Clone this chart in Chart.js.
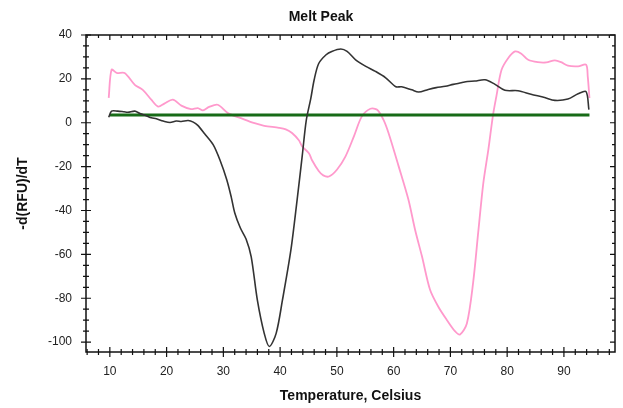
<!DOCTYPE html>
<html>
<head>
<meta charset="utf-8">
<script src="https://cdn.jsdelivr.net/npm/chart.js@4.4.1/dist/chart.umd.min.js"></script>
<style>
  html, body { margin: 0; padding: 0; background: #fff; }
  #wrap { width: 623px; height: 408px; }
</style>
</head>
<body>
<div id="wrap"><canvas id="myChart" width="623" height="408"></canvas></div>
<script>
// melt peak curves, temperature (C) vs -d(RFU)/dT
var blackTemp = [9.8, 10.3, 11.4, 12.5, 13.2, 14.4, 15.3, 16.5, 17.3, 18.2, 19.4, 20.6, 21.7, 22.6, 23.8, 24.7, 25.5, 26.7, 28.2, 29.4,
  30.6, 31.4, 32.0, 33.0, 34.0, 34.9, 36.0, 37.2, 38.1, 39.3, 40.4, 41.9, 43.0, 43.9, 44.6, 45.4, 46.0, 46.8, 48.1, 49.1,
  50.7, 51.8, 53.3, 55.1, 56.8, 58.6, 60.4, 61.4, 63.2, 64.4, 66.1, 67.5, 69.1, 70.5, 71.9, 73.0, 74.3, 76.1, 77.8, 79.6,
  81.9, 84.2, 86.6, 88.4, 90.7, 92.5, 93.9, 94.4];
var blackVal = [2.5, 5.3, 5.3, 5.0, 4.8, 5.3, 4.2, 3.1, 2.3, 1.8, 0.8, 0.1, 0.8, 0.6, 1.0, 0.3, -1.2, -5, -10, -17,
  -26, -34, -41, -48, -53, -61, -81, -96, -102, -96, -81, -58, -35, -15, 1, 11, 19.6, 27, 31, 32.5,
  33.6, 32.5, 28.7, 25.7, 23.4, 20.5, 16.4, 16.4, 15, 14, 15.2, 16, 16.6, 17.5, 18.2, 18.8, 19.0, 19.6, 17.6, 14.8,
  14.6, 13.0, 11.5, 10.2, 10.8, 13.2, 14.2, 6.0];

var pinkTemp = [9.8, 10.3, 11.2, 12.6, 14.4, 15.8, 17.3, 18.5, 19.6, 21.1, 22.6, 24.3, 25.5, 26.4, 27.5, 29.0, 30.8, 33.1, 35.5, 37.2,
  39.8, 41.0, 42.1, 43.3, 43.9, 45.1, 45.6, 46.8, 47.6, 48.6, 50.0, 51.5, 53.0, 54.4, 55.9, 57.1, 58.2, 59.1, 60.9, 62.6,
  63.8, 65.0, 66.4, 67.9, 69.4, 70.8, 71.7, 72.9, 74.0, 74.9, 75.8, 76.7, 77.5, 78.1, 79.0, 80.2, 81.4, 82.5, 83.7, 85.4,
  86.9, 88.4, 89.5, 90.7, 92.5, 93.9, 94.2, 94.5];
var pinkVal = [11.3, 24.2, 22.7, 22.7, 17.3, 15, 10.5, 7.4, 8.7, 10.5, 7.8, 6.2, 6.7, 5.6, 7.2, 8.2, 4.4, 2.1, -0.2, -1.4,
  -2.3, -3, -4.7, -8, -10.8, -14, -17, -22, -24, -24.5, -21.4, -15.4, -6.2, 2.9, 6.4, 5.9, 1.4, -4.7, -20, -35,
  -49, -61, -76, -84, -90, -95, -96.5, -91.5, -73, -50, -27.5, -12, 3.4, 12, 24, 29.5, 32.5, 31.5, 28.7, 27.6,
  27.5, 28.4, 27.6, 26, 25.7, 26.5, 21, 11.3];

// threshold line
var baseTemp = [10, 94.5];
var baseVal = [3.5, 3.5];

var xTicks = [10, 20, 30, 40, 50, 60, 70, 80, 90];
var yTicks = [-100, -80, -60, -40, -20, 0, 20, 40];

var fontFamily = "'Liberation Sans', Arial, sans-serif";

function points(xs, ys){
  return xs.map(function(x, i){ return {x: x, y: ys[i]}; });
}

// frame plus tick marks on all four sides (crossing on left/bottom, inward on top/right)
var frameTicks = {
  id: 'frameTicks',
  afterDraw: function(chart){
    var ctx = chart.ctx;
    var a = chart.chartArea;
    var xs = chart.scales.x, ys = chart.scales.y;
    ctx.save();
    ctx.strokeStyle = '#111';
    ctx.lineWidth = 1.5;
    ctx.strokeRect(a.left, a.top, a.right - a.left, a.bottom - a.top);
    ctx.lineWidth = 1.2;
    ctx.beginPath();
    var v, px, big;
    for (v = 6; v <= 98; v += 2) {
      px = xs.getPixelForValue(v);
      big = v % 10 === 0;
      ctx.moveTo(px, a.bottom - (big ? 5 : 3));
      ctx.lineTo(px, a.bottom + (big ? 5 : 3));
      ctx.moveTo(px, a.top);
      ctx.lineTo(px, a.top + (big ? 5 : 3));
    }
    for (v = -100; v <= 40; v += 5) {
      px = ys.getPixelForValue(v);
      big = v % 20 === 0;
      ctx.moveTo(a.left - (big ? 5 : 3), px);
      ctx.lineTo(a.left + (big ? 5 : 3), px);
      ctx.moveTo(a.right - (big ? 5 : 3), px);
      ctx.lineTo(a.right, px);
    }
    ctx.stroke();
    ctx.restore();
  }
};

var chart;

function initChart(){
  var ctx = document.getElementById('myChart').getContext('2d');
  chart = new Chart(ctx, {
    type: 'line',
    data: {
      datasets: [{
        label: 'Sample A',
        data: points(blackTemp, blackVal),
        borderColor: '#333333',
        borderWidth: 1.6,
        pointRadius: 0,
        tension: 0.3,
        fill: false
      }, {
        label: 'Threshold',
        data: points(baseTemp, baseVal),
        borderColor: '#176b17',
        borderWidth: 3,
        pointRadius: 0,
        fill: false
      }, {
        label: 'Sample B',
        data: points(pinkTemp, pinkVal),
        borderColor: '#ff99cc',
        borderWidth: 1.8,
        pointRadius: 0,
        tension: 0.3,
        fill: false
      }]
    },
    options: {
      responsive: false,
      animation: false,
      events: [],
      layout: { padding: { left: 27, right: 8, top: 0, bottom: 0 } },
      plugins: {
        legend: { display: false },
        tooltip: { enabled: false },
        title: {
          display: true,
          text: 'Melt Peak',
          color: '#111',
          font: { family: fontFamily, size: 14, weight: 'bold' },
          padding: { top: 9, bottom: 9.2 }
        }
      },
      scales: {
        x: {
          type: 'linear',
          min: 5.8,
          max: 99,
          grid: { display: false, drawTicks: false },
          border: { display: false },
          afterBuildTicks: function(s){ s.ticks = xTicks.map(function(v){ return {value: v}; }); },
          afterFit: function(s){ s.height = 56; },
          ticks: {
            color: '#222',
            padding: 12,
            maxRotation: 0,
            font: { family: fontFamily, size: 12 }
          },
          title: {
            display: true,
            text: 'Temperature, Celsius',
            color: '#111',
            font: { family: fontFamily, size: 14, weight: 'bold' },
            padding: { top: 0, bottom: 3 }
          }
        },
        y: {
          min: -104.5,
          max: 40,
          grid: { display: false, drawTicks: false },
          border: { display: false },
          afterBuildTicks: function(s){ s.ticks = yTicks.map(function(v){ return {value: v}; }); },
          afterFit: function(s){ s.width = 59; },
          ticks: {
            color: '#222',
            padding: 14,
            font: { family: fontFamily, size: 12 }
          },
          title: {
            display: true,
            text: '-d(RFU)/dT',
            color: '#111',
            font: { family: fontFamily, size: 14, weight: 'bold' },
            padding: { top: -12.4, bottom: 0 }
          }
        }
      }
    },
    plugins: [frameTicks]
  });
}

initChart();
</script>
</body>
</html>
